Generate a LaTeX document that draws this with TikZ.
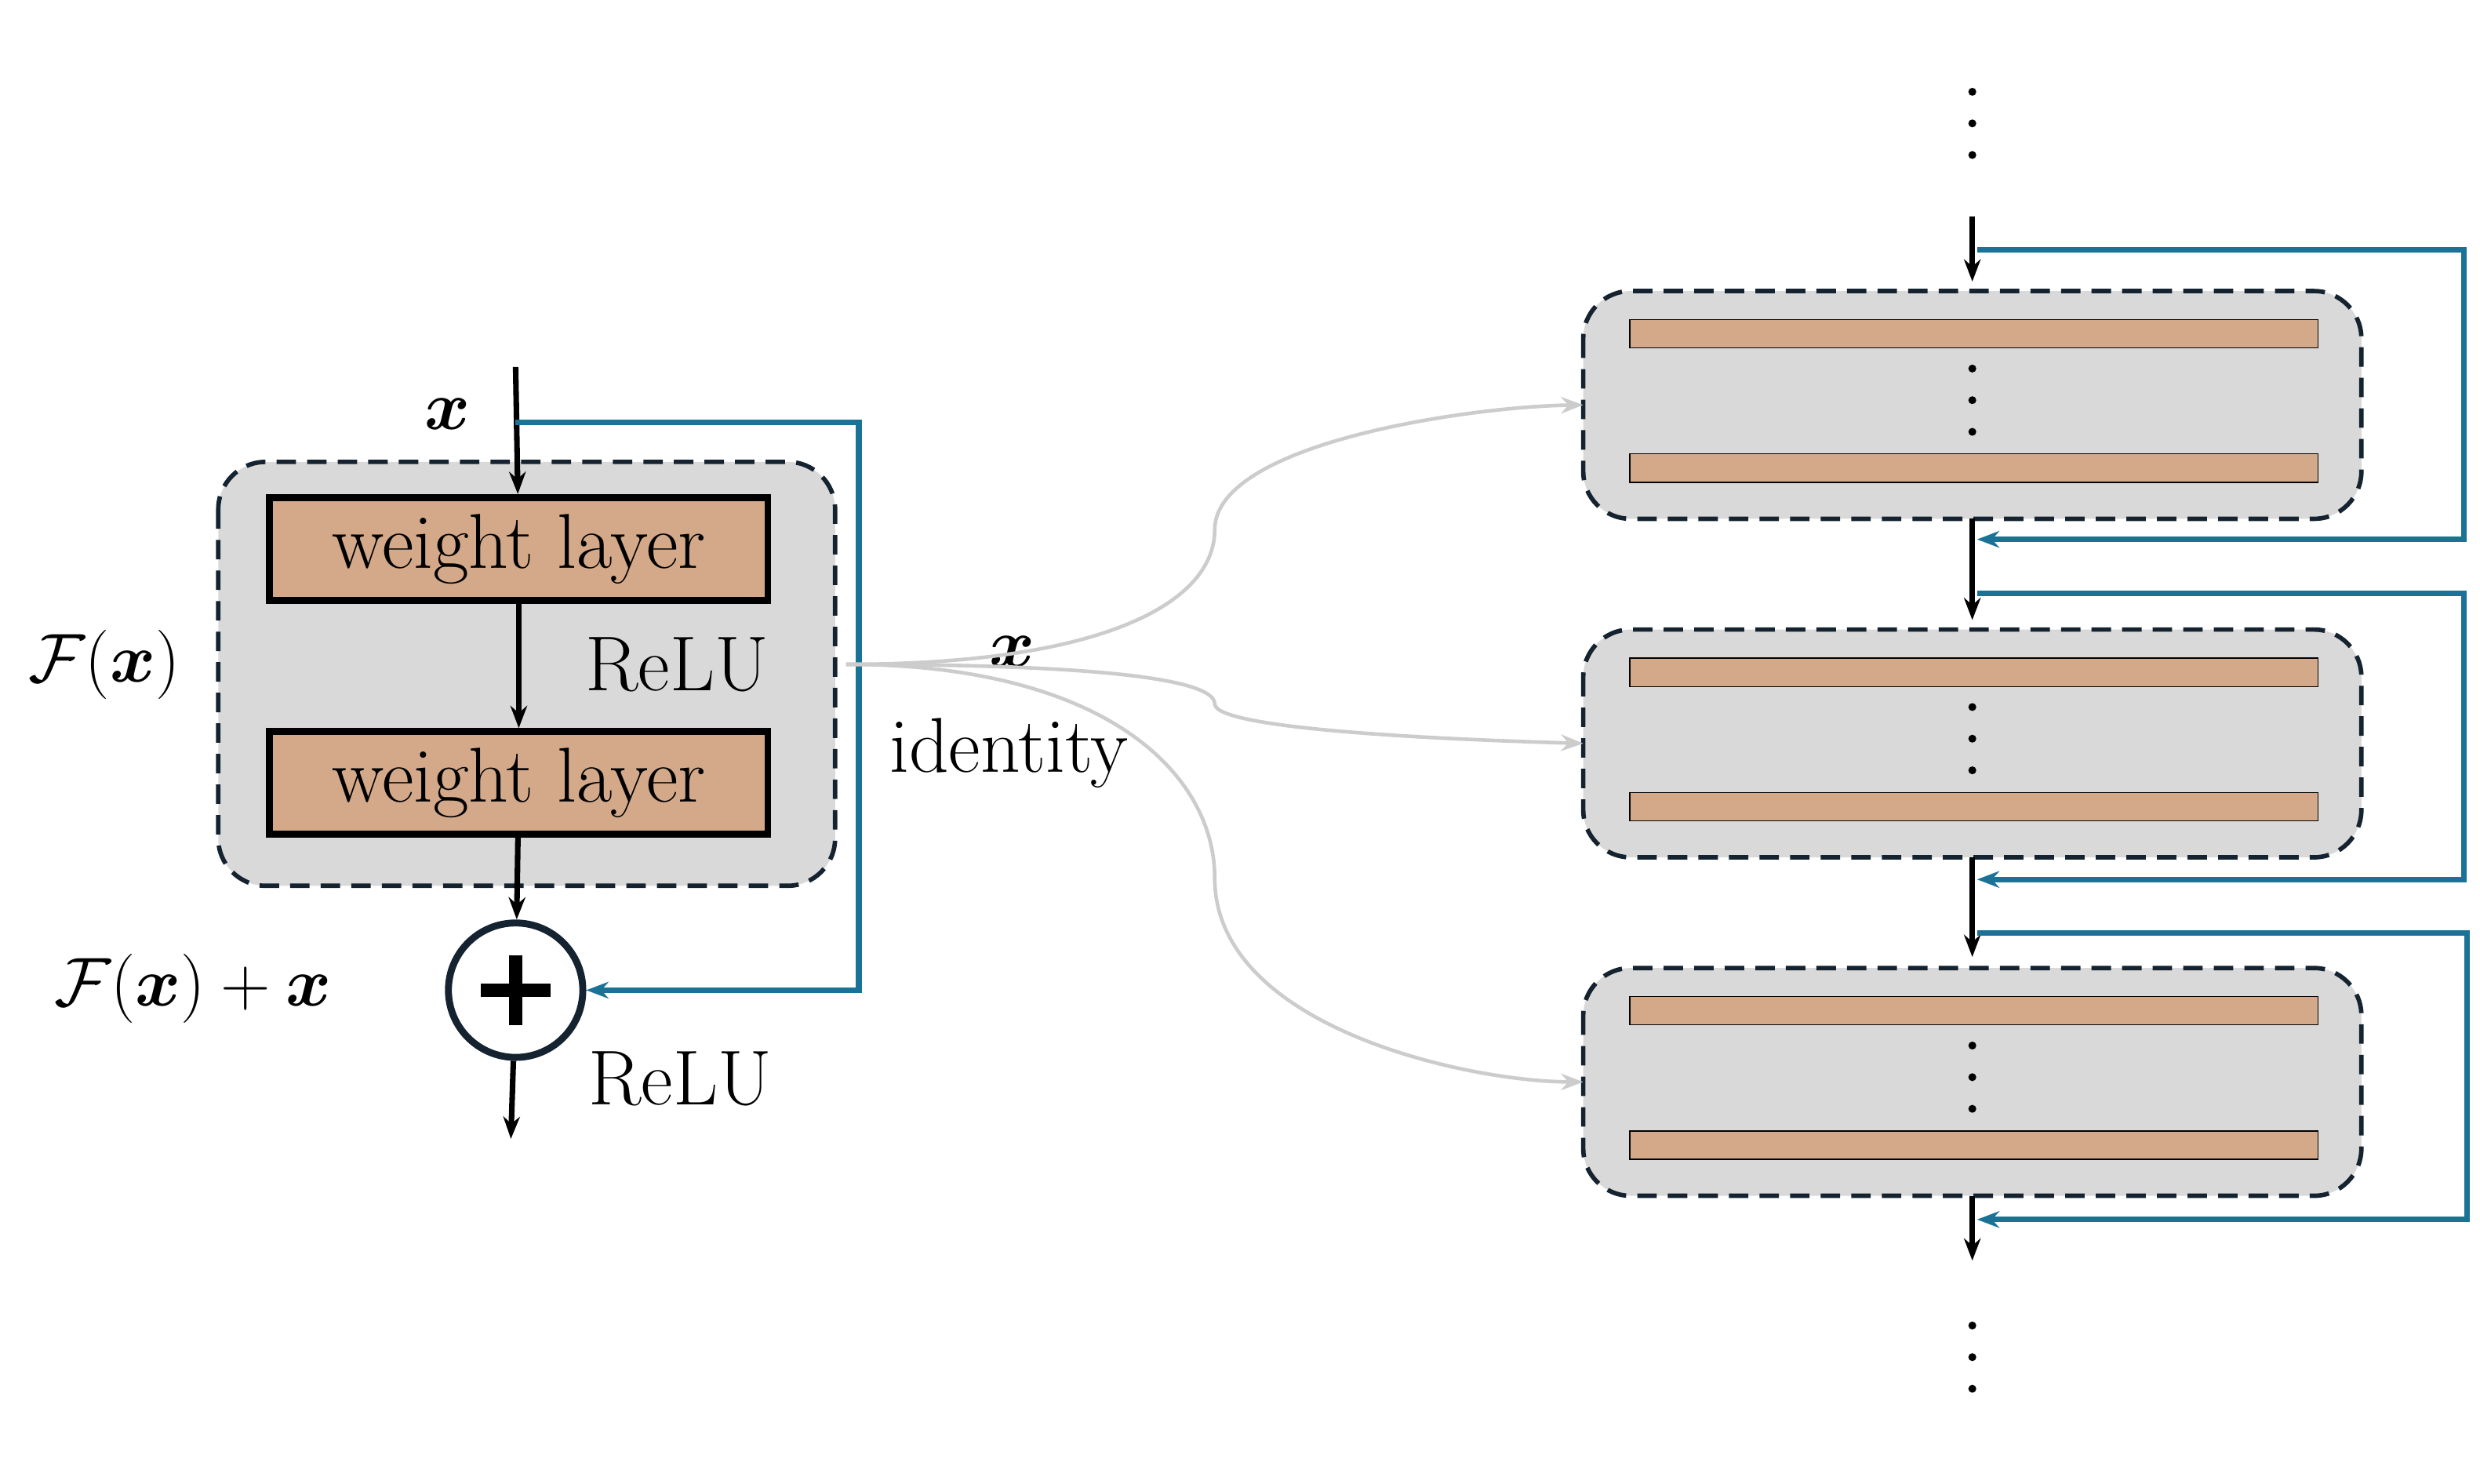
\documentclass[tikz,border=0pt]{standalone}
\usepackage{amsmath,bm}
\usetikzlibrary{arrows.meta, positioning}
\definecolor{tan}{HTML}{D4A98A}
\definecolor{boxgray}{HTML}{D9D9D9}
\definecolor{skipblue}{HTML}{1A7396}
\definecolor{darkline}{HTML}{14232F}
\definecolor{idgray}{HTML}{CCCCCC}
\newcommand{\labelfont}{\fontsize{28}{32}\selectfont}
\newcommand{\mathlabelfont}{\fontsize{37}{40}\selectfont}

\begin{document}
\begin{tikzpicture}[x=0.02cm, y=-0.02cm,
  block/.style={draw=darkline, dash pattern=on 7pt off 4pt, line width=1.6pt, fill=boxgray, rounded corners=0.6cm},
  layer/.style={draw, line width=2.5pt, fill=tan, minimum width=6.3cm, minimum height=1.3cm, font=\labelfont},
  bar/.style={draw, thin, fill=tan, minimum width=8.7cm, minimum height=0.36cm, inner sep=0pt},
  arrow/.style={-{Stealth[length=8pt]}, line width=2pt},
  skip/.style={-{Stealth[length=8pt]}, line width=2pt, skipblue},
  ident/.style={-{Stealth[length=8pt]}, line width=1.3pt, idgray},
  dot/.style={circle, fill, inner sep=0pt, minimum size=0.1cm}
]
\useasboundingbox (0,0) rectangle (1568,938);

% Left: residual block
\draw[block] (138,292) rectangle (528,560);
\node[layer] (wl1) at (328,347) {weight layer};
\node[layer] (wl2) at (328,495) {weight layer};
\node[draw=darkline, line width=2.5pt, circle, minimum size=1.7cm, inner sep=0pt] (plus) at (326,626) {};
\draw[line width=5pt] (326,604) -- (326,648) (304,626) -- (348,626);
\coordinate (in) at (326,232);
\coordinate (out) at (323,720);
\coordinate (tap) at (535,420);

\node[font=\mathlabelfont] (xin) at (283,262) {$\bm{x}$};
\node[font=\labelfont] (relu1) at (428,420) {ReLU};
\node[font=\mathlabelfont] (Fx) at (66,420) {$\mathcal{F}(\bm{x})$};
\node[font=\mathlabelfont] (Fxx) at (122,625) {$\mathcal{F}(\bm{x})+\bm{x}$};
\node[font=\labelfont] (relu2) at (430,682) {ReLU};
\node[font=\mathlabelfont] (xid) at (640,412) {$\bm{x}$};
\node[font=\labelfont] (identity) at (638,476) {identity};

\draw[arrow] (in) -- (wl1);
\draw[arrow] (wl1) -- (wl2);
\draw[arrow] (wl2) -- (plus);
\draw[arrow] (plus) -- (out);
\draw[skip] (326,267) -- (543,267) -- (543,626) -- (plus);

% Right: stacked blocks
\foreach \i/\y in {1/256, 2/470, 3/684} {
  \draw[block] (1001,\y-72) rectangle (1493,\y+72);
  \node[bar] (top\i) at (1248,\y-45) {};
  \node[bar] (bot\i) at (1248,\y+40) {};
  \foreach \d in {-20,0,20}
    \node[dot] at (1247,\y-3+\d) {};
  \coordinate (in\i) at (1001,\y);
}
\foreach \d in {-20,0,20} {
  \node[dot] at (1247,78+\d) {};
  \node[dot] at (1247,858+\d) {};
}

\draw[arrow] (1247,137) -- (1247,178);
\draw[arrow] (1247,328) -- (1247,392);
\draw[arrow] (1247,542) -- (1247,605);
\draw[arrow] (1247,756) -- (1247,797);
\draw[skip] (1250,158) -- (1558,158) -- (1558,341) -- (1250,341);
\draw[skip] (1250,375) -- (1558,375) -- (1558,556) -- (1250,556);
\draw[skip] (1250,590) -- (1560,590) -- (1560,771) -- (1250,771);

% identity fan-out
\draw[ident] (tap) .. controls (700,420) and (768,380) .. (768,335) .. controls (768,280) and (930,257) .. (in1);
\draw[ident] (tap) .. controls (700,420) and (768,430) .. (768,445) .. controls (768,462) and (930,468) .. (in2);
\draw[ident] (tap) .. controls (700,420) and (768,490) .. (768,555) .. controls (768,650) and (930,684) .. (in3);
\end{tikzpicture}
\end{document}
